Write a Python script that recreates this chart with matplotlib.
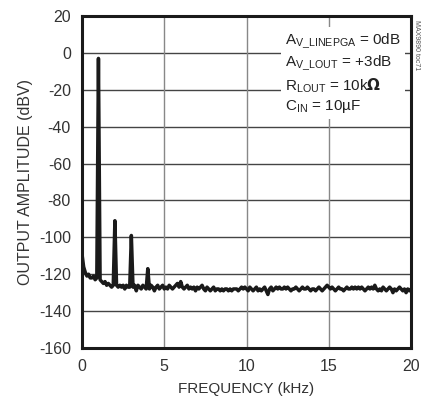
import numpy as np
import matplotlib.pyplot as plt

plt.rcParams['font.family'] = ['Liberation Sans', 'DejaVu Sans']
plt.rcParams['mathtext.fontset'] = 'custom'
plt.rcParams['mathtext.rm'] = 'Liberation Sans'
plt.rcParams['mathtext.it'] = 'Liberation Sans'
plt.rcParams['axes.unicode_minus'] = False

# Frecuencia en kHz (paso de 0.1 kHz)
freq = np.arange(0, 20.05, 0.1)

# Amplitud de salida (dBV)
amp = [
    -109, -116, -119, -121, -120, -122, -122, -121, -123, -122,   # 0.0 - 0.9
    -3, -123, -124, -125, -124, -126, -125, -126, -127, -126,     # 1.0 - 1.9
    -91, -126, -127, -126, -127, -126, -128, -126, -127, -127,    # 2.0 - 2.9
    -99, -127, -126, -129, -126, -127, -128, -126, -127, -128,    # 3.0 - 3.9
    -117, -128, -126, -127, -129, -127, -126, -128, -127, -126,   # 4.0 - 4.9
    -128, -127, -128, -126, -127, -128, -127, -126, -125, -127,   # 5.0 - 5.9
    -124, -127, -128, -127, -126, -128, -127, -128, -127, -129,   # 6.0 - 6.9
    -127, -128, -127, -126, -128, -129, -127, -128, -129, -128,   # 7.0 - 7.9
    -127, -129, -128, -128, -129, -128, -129, -128, -128, -129,   # 8.0 - 8.9
    -128, -129, -128, -128, -128, -129, -128, -127, -128, -127,   # 9.0 - 9.9
    -128, -129, -127, -128, -129, -128, -127, -129, -128, -129,   # 10.0 - 10.9
    -128, -127, -129, -131, -128, -127, -129, -128, -127, -128,   # 11.0 - 11.9
    -127, -128, -128, -127, -128, -127, -128, -129, -128, -128,   # 12.0 - 12.9
    -127, -128, -129, -128, -127, -128, -128, -127, -128, -129,   # 13.0 - 13.9
    -128, -128, -129, -128, -127, -128, -129, -128, -127, -126,   # 14.0 - 14.9
    -127, -128, -127, -128, -129, -128, -127, -128, -128, -129,   # 15.0 - 15.9
    -128, -127, -128, -128, -127, -128, -127, -128, -127, -128,   # 16.0 - 16.9
    -127, -128, -129, -128, -127, -128, -127, -128, -126, -128,   # 17.0 - 17.9
    -129, -128, -129, -127, -128, -129, -128, -127, -128, -130,   # 18.0 - 18.9
    -128, -129, -128, -127, -128, -129, -128, -130, -128, -129,   # 19.0 - 19.9
    -128,                                                        # 20.0
]

xticks = [0, 5, 10, 15, 20]
yticks = [20, 0, -20, -40, -60, -80, -100, -120, -140, -160]

fig = plt.figure(figsize=(4.22, 4.07), dpi=100)
ax = fig.add_axes([0.1943, 0.145, 0.7797, 0.8157])

ax.plot(freq, amp, color='#1a1a1a', linewidth=2.5, zorder=3)

ax.set_xlim(0, 20)
ax.set_ylim(-160, 20)
ax.set_xticks(xticks)
ax.set_yticks(yticks)
ax.tick_params(length=0, labelsize=11.5, pad=8, colors='#333333')

# rejilla
for y in yticks[1:-1]:
    ax.axhline(y, color='#444444', linewidth=1.0, zorder=1)
for x in xticks[1:-1]:
    ax.axvline(x, color='#888888', linewidth=1.0, zorder=1)

for s in ax.spines.values():
    s.set_linewidth(2.2)
    s.set_color('#1a1a1a')
    s.set_zorder(6)

ax.set_xlabel("FREQUENCY (kHz)", fontsize=11, color='#333333', labelpad=6)
ax.set_ylabel("OUTPUT AMPLITUDE (dBV)", fontsize=11.5, color='#333333', labelpad=4)

texto = ("A$_{\\mathrm{V\\_LINEPGA}}$ = 0dB\n"
         "A$_{\\mathrm{V\\_LOUT}}$ = +3dB\n"
         "R$_{\\mathrm{LOUT}}$ = 10k$\\mathbf{\\Omega}$\n"
         "C$_{\\mathrm{IN}}$ = 10µF")
ax.text(0.617, 0.952, texto, transform=ax.transAxes, fontsize=11, color='#222222',
        va='top', ha='left', linespacing=1.25, zorder=4,
        bbox=dict(facecolor='white', edgecolor='none', pad=3))

fig.text(0.986, 0.95, "MAX9890 toc71", rotation=-90, fontsize=5, color='#555555',
         va='top', ha='center')

plt.savefig("out.png", dpi=100)
